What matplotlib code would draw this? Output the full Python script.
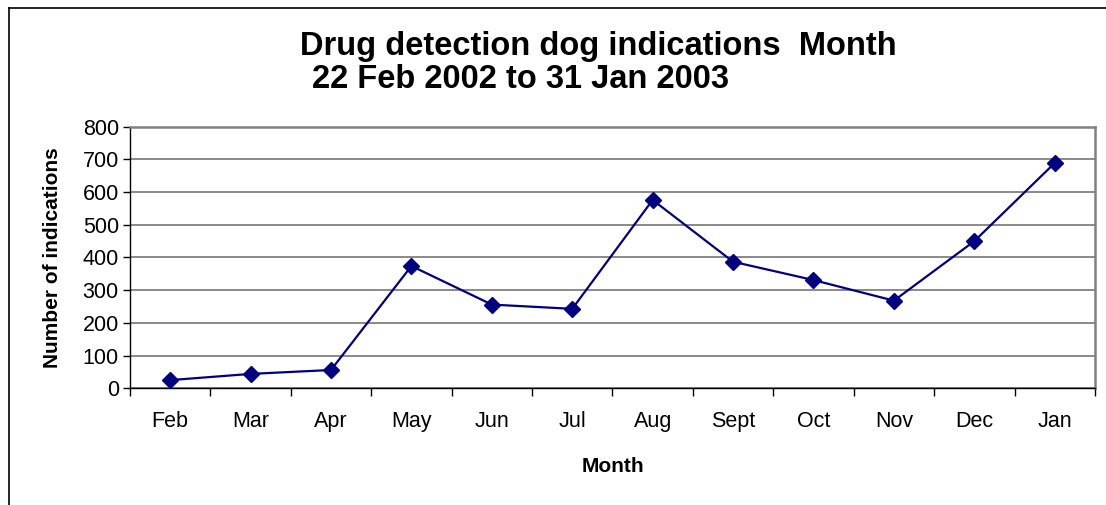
import matplotlib
matplotlib.use('Agg')
import matplotlib.pyplot as plt
from matplotlib.lines import Line2D
import numpy as np

plt.rcParams['font.family'] = ['Liberation Sans', 'DejaVu Sans']

months = ['Feb', 'Mar', 'Apr', 'May', 'Jun', 'Jul', 'Aug', 'Sept', 'Oct', 'Nov', 'Dec', 'Jan']
indications = [25, 44, 56, 374, 256, 243, 576, 387, 331, 268, 450, 689]
y_ticks = list(range(0, 801, 100))

fig = plt.figure(figsize=(11.06, 5.05), dpi=100)
ax = fig.add_axes([0.1175, 0.2311, 0.8725, 0.518])

x = np.arange(len(months))
ax.plot(x, indications, color='#000080', linewidth=1.6, marker='D',
        markersize=8, markerfacecolor='#000080', markeredgecolor='#000080', zorder=5)

ax.set_xlim(-0.5, len(months) - 0.5)
ax.set_ylim(0, 800)
ax.set_yticks(y_ticks)
ax.yaxis.grid(True, color='#6a6a6a', linewidth=1.1)
ax.set_axisbelow(True)

# category labels sit between the boundary tick marks
ax.set_xticks(x)
ax.set_xticklabels(months, fontsize=15.5)
ax.set_xticks(np.arange(-0.5, len(months)), minor=True)
ax.tick_params(axis='x', which='major', length=0, pad=16.5)
ax.tick_params(axis='x', which='minor', length=6, width=1, color='black', direction='out')
ax.tick_params(axis='y', length=5, width=1, direction='out', labelsize=15.5, pad=3)

for side in ['top', 'right']:
    ax.spines[side].set_color('#808080')
    ax.spines[side].set_linewidth(1.8)
ax.spines['left'].set_color('black')
ax.spines['bottom'].set_color('black')
ax.spines['left'].set_linewidth(1)
ax.spines['bottom'].set_linewidth(1)

ax.set_xlabel('Month', fontsize=15, fontweight='bold', labelpad=17.5)
ax.set_ylabel('Number of indications', fontsize=15, fontweight='bold', labelpad=15)

fig.text(598 / 1106, 1 - 46 / 505, 'Drug detection dog indications  Month',
         fontsize=23.5, fontweight='bold', ha='center', va='center')
fig.text(521 / 1106, 1 - 80 / 505, '22 Feb 2002 to 31 Jan 2003',
         fontsize=23.5, fontweight='bold', ha='center', va='center')

# chart frame: left and top edges
fig.add_artist(Line2D([9 / 1106, 9 / 1106], [0, 1 - 8 / 505], color='black',
                      linewidth=1.2, transform=fig.transFigure))
fig.add_artist(Line2D([9 / 1106, 1], [1 - 8 / 505, 1 - 8 / 505], color='black',
                      linewidth=1.2, transform=fig.transFigure))

fig.savefig('out.png', dpi=100)
